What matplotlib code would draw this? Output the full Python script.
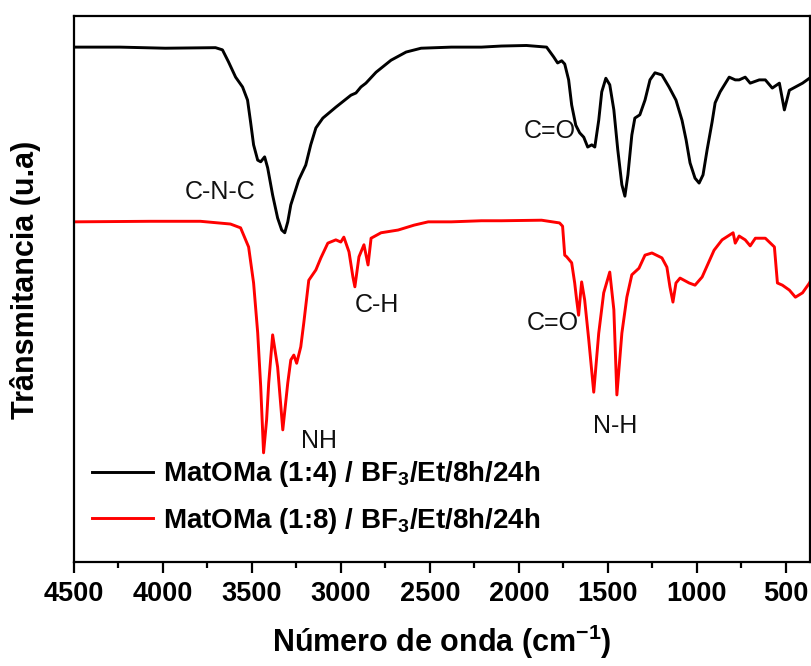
import matplotlib
matplotlib.use('Agg')
import matplotlib.pyplot as plt
from matplotlib.ticker import MultipleLocator

plt.rcParams['font.family'] = ['Liberation Sans', 'DejaVu Sans']
plt.rcParams['font.weight'] = 'bold'
plt.rcParams['mathtext.fontset'] = 'custom'
plt.rcParams['mathtext.rm'] = 'Liberation Sans'
plt.rcParams['mathtext.bf'] = 'Liberation Sans:bold'

# FTIR spectrum MatOMa (1:4) - wavenumber (cm-1) and transmittance (u.a)
wn_14 = [4500, 4241, 3987, 3705, 3666, 3632, 3592, 3553, 3525, 3508,
         3491, 3468, 3451, 3429, 3412, 3384, 3356, 3333, 3316, 3299,
         3282, 3237, 3198, 3170, 3141, 3102, 3029, 2944, 2916, 2888,
         2860, 2803, 2719, 2634, 2550, 2380, 2211, 2099, 1958, 1845,
         1805, 1783, 1760, 1743, 1721, 1704, 1681, 1659, 1636, 1614,
         1591, 1574, 1552, 1535, 1512, 1490, 1467, 1445, 1422, 1405,
         1388, 1366, 1349, 1321, 1292, 1264, 1236, 1197, 1157, 1118,
         1084, 1061, 1039, 1011, 988, 966, 943, 915, 898, 870,
         819, 785, 763, 729, 701, 650, 616, 577, 537, 509,
         481, 407, 351]
t_14 = [94.3, 94.3, 94.1, 94.2, 93.8, 91.6, 88.8, 87.0, 84.6, 80.6,
        76.4, 73.6, 73.3, 74.2, 72.2, 67.2, 63.0, 60.8, 60.3, 62.3,
        65.4, 70.0, 72.7, 76.4, 79.5, 81.3, 83.3, 85.5, 85.9, 87.0,
        87.7, 89.7, 91.9, 93.4, 94.1, 94.3, 94.3, 94.5, 94.6, 94.3,
        92.5, 91.4, 91.8, 91.2, 88.3, 83.7, 80.0, 78.6, 77.8, 76.0,
        76.4, 76.0, 80.9, 86.1, 88.6, 87.4, 82.8, 75.5, 69.1, 67.0,
        70.9, 78.2, 81.3, 81.9, 84.6, 88.3, 89.6, 89.2, 87.0, 84.6,
        80.9, 77.3, 73.1, 70.3, 69.4, 70.9, 75.5, 80.6, 84.1, 86.1,
        88.8, 88.3, 88.3, 88.8, 87.7, 88.3, 88.3, 86.8, 87.7, 82.8,
        86.4, 87.7, 89.0]

# FTIR spectrum MatOMa (1:8)
wn_18 = [4500, 4072, 3790, 3621, 3564, 3519, 3491, 3468, 3451, 3435,
         3418, 3406, 3384, 3356, 3327, 3299, 3282, 3265, 3249, 3226,
         3209, 3181, 3141, 3113, 3074, 3029, 3001, 2984, 2955, 2933,
         2922, 2899, 2871, 2848, 2831, 2775, 2679, 2589, 2510, 2380,
         2211, 2099, 1873, 1772, 1755, 1743, 1732, 1704, 1687, 1676,
         1665, 1648, 1631, 1608, 1580, 1552, 1524, 1490, 1467, 1450,
         1422, 1394, 1366, 1326, 1292, 1253, 1197, 1169, 1152, 1135,
         1118, 1095, 1044, 1011, 971, 904, 859, 797, 785, 763,
         729, 701, 672, 616, 565, 548, 520, 481, 447, 407,
         368, 340]
t_18 = [62.3, 62.4, 62.4, 61.9, 61.2, 57.7, 51.1, 42.0, 32.1, 20.0,
        26.0, 32.8, 41.6, 35.7, 24.2, 32.8, 37.0, 37.9, 36.4, 39.4,
        43.8, 51.6, 53.5, 55.7, 58.4, 59.0, 58.6, 59.5, 56.8, 52.2,
        50.4, 55.9, 58.1, 54.4, 59.3, 60.3, 60.8, 61.7, 62.3, 62.3,
        62.5, 62.5, 62.6, 62.1, 61.5, 56.2, 55.9, 54.8, 51.1, 48.0,
        45.2, 51.3, 48.0, 40.7, 31.1, 41.9, 49.3, 53.1, 46.2, 30.6,
        41.9, 48.5, 52.6, 53.8, 56.2, 56.6, 55.7, 54.0, 50.4, 47.6,
        51.1, 52.0, 51.1, 50.7, 52.2, 57.1, 59.0, 60.3, 58.4, 59.7,
        59.0, 57.9, 59.3, 59.3, 57.7, 51.1, 50.7, 49.8, 48.5, 49.3,
        51.1, 52.9]

labels = ['MatOMa (1:4) / BF$_\\mathbf{3}$/Et/8h/24h',
          'MatOMa (1:8) / BF$_\\mathbf{3}$/Et/8h/24h']

# band assignments
band_names = ['C-N-C', 'C=O', 'C-H', 'NH', 'C=O', 'N-H']
band_x = [3680, 1828, 2800, 3122, 1808, 1462]
band_y = [67.8, 78.9, 47.1, 22.2, 43.8, 24.9]

fig = plt.figure(figsize=(8.12, 6.66), dpi=100)
ax = fig.add_axes([74 / 812, 1 - 562 / 666, 736 / 812, 546 / 666])

ax.plot(wn_14, t_14, color='black', linewidth=2.1, label=labels[0])
ax.plot(wn_18, t_18, color='#ff0000', linewidth=2.1, label=labels[1])

for name, bx, by in zip(band_names, band_x, band_y):
    ax.text(bx, by, name, fontsize=18, fontweight='normal',
            ha='center', va='center', color='#111111')

ax.set_xlim(4500, 365)
ax.set_ylim(0, 100)
ax.xaxis.set_major_locator(MultipleLocator(500))
ax.xaxis.set_minor_locator(MultipleLocator(250))
ax.set_yticks([])
ax.tick_params(axis='x', which='major', direction='out', length=8, width=1.6,
               labelsize=19.5, pad=6)
ax.tick_params(axis='x', which='minor', direction='out', length=4.5, width=1.6)
for sp in ax.spines.values():
    sp.set_linewidth(1.6)

ax.set_xlabel('Número de onda (cm$^{\\mathbf{-1}}$)', fontsize=22,
              fontweight='bold', labelpad=11)
ax.set_ylabel('Trânsmitancia (u.a)', fontsize=22, fontweight='bold')
ax.yaxis.set_label_coords(-0.045, 0.516)

ax.legend(loc='center left', bbox_to_anchor=(0.0245, 0.118), frameon=False,
          fontsize=20, handlelength=2.2, handletextpad=0.36, borderpad=0,
          borderaxespad=0, labelspacing=0.6)

fig.savefig('out.png', dpi=100, facecolor='white')
